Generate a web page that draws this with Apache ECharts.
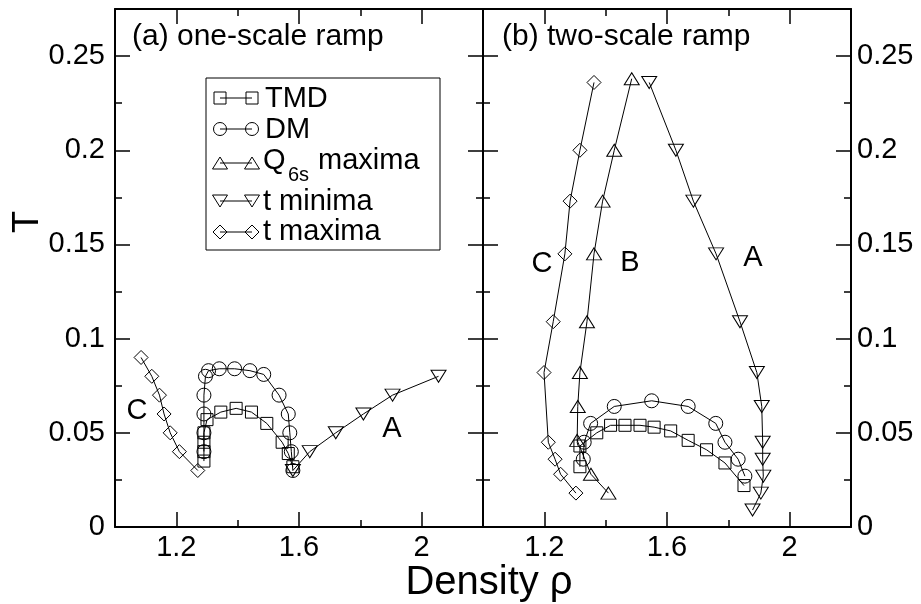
<!DOCTYPE html>
<html>
<head>
<meta charset="utf-8">
<script src="https://cdn.jsdelivr.net/npm/echarts@6/dist/echarts.min.js"></script>
<style>
  html, body { margin: 0; padding: 0; background: #fff; }
  #chart { width: 921px; height: 604px; }
</style>
</head>
<body>
<div id="chart"></div>
<script>
// tick values
const rhoTicks = [1.2, 1.6, 2];
const rhoMinorTicks = [1.4, 1.8];
const tTicks = [0, 0.05, 0.1, 0.15, 0.2, 0.25];
const tMinorTicks = [0.025, 0.075, 0.125, 0.175, 0.225];

// (a) one-scale ramp
const oneTmdRho = [1.29, 1.29, 1.29, 1.29, 1.30, 1.345, 1.395, 1.445, 1.495, 1.545, 1.565, 1.58];
const oneTmdT = [0.035, 0.04, 0.045, 0.05, 0.057, 0.061, 0.063, 0.061, 0.055, 0.045, 0.039, 0.032];
const oneDmRho = [1.29, 1.29, 1.29, 1.29, 1.295, 1.305, 1.34, 1.39, 1.44, 1.485, 1.535, 1.565, 1.57, 1.575, 1.58];
const oneDmT = [0.04, 0.05, 0.06, 0.07, 0.08, 0.083, 0.084, 0.084, 0.083, 0.081, 0.07, 0.06, 0.05, 0.04, 0.03];
const oneTminRho = [1.58, 1.635, 1.72, 1.81, 1.905, 2.055];
const oneTminT = [0.03, 0.04, 0.05, 0.06, 0.07, 0.08];
const oneTmaxRho = [1.085, 1.12, 1.145, 1.16, 1.18, 1.21, 1.27];
const oneTmaxT = [0.09, 0.08, 0.07, 0.06, 0.05, 0.04, 0.03];

// (b) two-scale ramp
const twoTmdRho = [1.316, 1.316, 1.371, 1.416, 1.463, 1.512, 1.558, 1.612, 1.669, 1.729, 1.789, 1.851];
const twoTmdT = [0.032, 0.043, 0.05, 0.054, 0.054, 0.054, 0.053, 0.051, 0.046, 0.041, 0.034, 0.022];
const twoDmRho = [1.327, 1.33, 1.351, 1.428, 1.55, 1.669, 1.759, 1.789, 1.832, 1.854];
const twoDmT = [0.036, 0.045, 0.055, 0.064, 0.067, 0.064, 0.055, 0.045, 0.036, 0.027];
const twoQ6Rho = [1.485, 1.428, 1.39, 1.362, 1.339, 1.316, 1.309, 1.307, 1.352, 1.409];
const twoQ6T = [0.238, 0.2, 0.173, 0.145, 0.109, 0.082, 0.064, 0.046, 0.028, 0.018];
const twoTminRho = [1.542, 1.629, 1.686, 1.76, 1.838, 1.893, 1.909, 1.912, 1.912, 1.914, 1.906, 1.879];
const twoTminT = [0.236, 0.2, 0.173, 0.145, 0.109, 0.082, 0.064, 0.045, 0.036, 0.027, 0.018, 0.009];
const twoTmaxRho = [1.362, 1.316, 1.284, 1.267, 1.229, 1.199, 1.213, 1.235, 1.253, 1.303];
const twoTmaxT = [0.236, 0.2, 0.173, 0.145, 0.109, 0.082, 0.045, 0.036, 0.028, 0.018];

const FONT = "Liberation Sans, Arial, sans-serif";
const chart = echarts.init(document.getElementById("chart"));

function pairs(xs, ys) {
  return xs.map((x, i) => [x, ys[i]]);
}

// one axis = line + ticks (+ labels); minor ticks go on a second overlaid axis
function axis(kind, grid, position, ticks, len, showLine, labels, margin) {
  const a = {
    gridIndex: grid,
    type: "value",
    position: position,
    axisLine: { show: showLine, onZero: false, lineStyle: { color: "#000", width: 2 } },
    axisTick: { show: true, inside: true, length: len, customValues: ticks,
      lineStyle: { color: "#000", width: 1.5 } },
    axisLabel: { show: labels, customValues: ticks, margin: margin, color: "#000",
      fontSize: 29, fontFamily: FONT },
    splitLine: { show: false }
  };
  if (kind === "x") { a.min = 1; a.max = 2.2; } else { a.min = 0; a.max = 0.275; }
  return a;
}

const xAxis = [], yAxis = [];
[0, 1].forEach(g => {
  xAxis.push(axis("x", g, "bottom", rhoTicks, 15, true, true, 6));
  xAxis.push(axis("x", g, "bottom", rhoMinorTicks, 7, false, false, 6));
  xAxis.push(axis("x", g, "top", rhoTicks, 15, true, false, 6));
  xAxis.push(axis("x", g, "top", rhoMinorTicks, 7, false, false, 6));
  yAxis.push(axis("y", g, "left", tTicks, 15, true, g === 0, 10));
  yAxis.push(axis("y", g, "left", tMinorTicks, 7, false, false, 10));
  yAxis.push(axis("y", g, "right", tTicks, 15, true, g === 1, 6));
  yAxis.push(axis("y", g, "right", tMinorTicks, 7, false, false, 6));
});

function line(name, xs, ys, grid, symbol, size, rotate) {
  return {
    name: name,
    type: "line",
    xAxisIndex: grid * 4,
    yAxisIndex: grid * 4,
    data: pairs(xs, ys),
    symbol: symbol,
    symbolSize: size,
    symbolRotate: rotate || 0,
    showAllSymbol: true,
    lineStyle: { color: "#000", width: 1 },
    itemStyle: { color: "rgba(0,0,0,0)", borderColor: "#000", borderWidth: 1 },
    z: 3
  };
}

const series = [
  line("TMD", oneTmdRho, oneTmdT, 0, "rect", 12),
  line("DM", oneDmRho, oneDmT, 0, "circle", 14),
  line("t minima", oneTminRho, oneTminT, 0, "triangle", [15, 12], 180),
  line("t maxima", oneTmaxRho, oneTmaxT, 0, "diamond", 14),
  line("TMD", twoTmdRho, twoTmdT, 1, "rect", 12),
  line("DM", twoDmRho, twoDmT, 1, "circle", 14),
  line("Q6s maxima", twoQ6Rho, twoQ6T, 1, "triangle", [15, 12]),
  line("t minima", twoTminRho, twoTminT, 1, "triangle", [15, 12], 180),
  line("t maxima", twoTmaxRho, twoTmaxT, 1, "diamond", 14)
];

function txt(x, y, s, size, align) {
  return {
    type: "text", z: 10,
    style: { x: x, y: y, text: s, fill: "#000", fontSize: size, fontFamily: FONT,
      align: align || "left", verticalAlign: "middle" }
  };
}

// legend drawn by hand: line with a symbol at each end
const stroke = { fill: "none", stroke: "#000", lineWidth: 1 };
function legendRow(cy, kind) {
  const out = [{ type: "line", z: 10, shape: { x1: 220, y1: cy, x2: 252, y2: cy }, style: stroke }];
  [220, 252].forEach(cx => {
    if (kind === "rect") out.push({ type: "rect", z: 10, shape: { x: cx - 6, y: cy - 6, width: 12, height: 12 }, style: stroke });
    if (kind === "circle") out.push({ type: "circle", z: 10, shape: { cx: cx, cy: cy, r: 6.5 }, style: stroke });
    if (kind === "up") out.push({ type: "polygon", z: 10, shape: { points: [[cx, cy - 6], [cx + 7.5, cy + 6], [cx - 7.5, cy + 6]] }, style: stroke });
    if (kind === "down") out.push({ type: "polygon", z: 10, shape: { points: [[cx, cy + 6], [cx + 7.5, cy - 6], [cx - 7.5, cy - 6]] }, style: stroke });
    if (kind === "diamond") out.push({ type: "polygon", z: 10, shape: { points: [[cx, cy - 7], [cx + 7, cy], [cx, cy + 7], [cx - 7, cy]] }, style: stroke });
  });
  return out;
}

const graphic = [
  { type: "rect", z: 9, shape: { x: 206, y: 78, width: 234, height: 172 }, style: { fill: "#fff", stroke: "#000", lineWidth: 1 } },
  ...legendRow(98, "rect"), txt(265, 99, "TMD", 29),
  ...legendRow(129, "circle"), txt(265, 130, "DM", 29),
  ...legendRow(163, "up"), txt(263, 161, "Q", 29), txt(288, 175, "6s", 20), txt(318, 161, "maxima", 29),
  ...legendRow(201, "down"), txt(263, 202, "t minima", 29),
  ...legendRow(232, "diamond"), txt(263, 232, "t maxima", 29),

  txt(132, 37, "(a) one-scale ramp", 30),
  txt(502, 37, "(b) two-scale ramp", 30),
  txt(137, 411, "C", 29, "center"),
  txt(392, 429, "A", 29, "center"),
  txt(542, 264, "C", 29, "center"),
  txt(630, 263, "B", 29, "center"),
  txt(753, 258, "A", 29, "center"),

  txt(489, 583, "Density ρ", 40, "center"),
  { type: "text", z: 10, x: 28, y: 222, rotation: Math.PI / 2,
    style: { x: 0, y: 0, text: "T", fill: "#000", fontSize: 36, fontFamily: FONT, align: "center", verticalAlign: "middle" } }
];

chart.setOption({
  animation: false,
  backgroundColor: "#fff",
  grid: [
    { left: 115, top: 9, width: 368, height: 518 },
    { left: 483, top: 9, width: 368, height: 518 }
  ],
  xAxis: xAxis,
  yAxis: yAxis,
  series: series,
  graphic: graphic
});
</script>
</body>
</html>
